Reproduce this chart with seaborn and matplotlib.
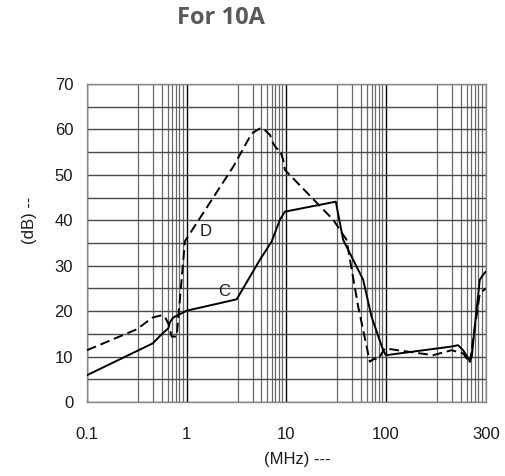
import numpy as np
import pandas as pd
import seaborn as sns
from matplotlib import pyplot as plt

# curve C (solid), x in the axis' own units
c_freq = [0.1, 0.456, 0.578, 0.653, 0.68, 0.733, 1.0, 3.17, 5.42, 7.11, 8.6, 9.66, 31.3, 37.1,
          58.9, 71.4, 93.4, 99.5, 453, 527, 592, 665, 691, 724, 776, 871, 940, 1000]
c_db = [5.9, 12.9, 15.2, 16.2, 17.6, 18.6, 20.1, 22.6, 31.3, 35.3, 40.1, 41.9, 44.1, 35.7,
        26.9, 18.8, 11.4, 10.3, 12.2, 12.5, 11.4, 9.7, 8.9, 10.0, 16.6, 26.9, 28.0, 28.7]

# curve D (dashed)
d_freq = [0.1, 0.315, 0.456, 0.561, 0.605, 0.653, 0.706, 0.793, 0.96, 2.93, 4.48, 5.42, 5.85,
          6.84, 7.38, 7.98, 8.61, 9.29, 9.66, 10.8, 29.5, 31.9, 40.1, 52.5, 68.7, 77.1, 80.2,
          86.5, 97.2, 296, 453, 592, 665, 691, 871, 1000]
d_db = [11.4, 16.0, 18.6, 19.1, 18.7, 17.3, 14.4, 14.4, 35.4, 51.8, 59.1, 60.2, 60.2,
        58.8, 56.9, 55.8, 55.5, 53.3, 51.1, 50.0, 40.1, 39.0, 35.7, 21.0, 8.9, 9.6, 9.2,
        10.0, 11.8, 10.3, 11.4, 10.7, 9.2, 8.6, 23.9, 25.0]

x_ticks = [0.1, 1, 10, 100, 1000]
x_labels = ['0.1', '1', '10', '100', '300']
y_ticks = [0, 10, 20, 30, 40, 50, 60, 70]

sns.set_style('white')
plt.rcParams['font.family'] = ['Liberation Sans', 'DejaVu Sans']

fig = plt.figure(figsize=(5.06, 4.76), dpi=100)
ax = fig.add_axes([0.172, 0.1555, 0.788, 0.668])

df_c = pd.DataFrame({'f': c_freq, 'db': c_db})
df_d = pd.DataFrame({'f': d_freq, 'db': d_db})
sns.lineplot(data=df_c, x='f', y='db', ax=ax, color='black', lw=1.4, sort=False, estimator=None, zorder=5)
sns.lineplot(data=df_d, x='f', y='db', ax=ax, color='black', lw=1.4, sort=False, estimator=None,
             linestyle=(0, (5, 2.5)), zorder=5)

ax.set_xscale('log')
ax.set_xlim(0.1, 1000)
ax.set_ylim(0, 70)
ax.set_xticks(x_ticks)
ax.set_xticklabels(x_labels)
# the sheet's minor grid is spaced unevenly inside each decade
fracs = [0.51, 0.66, 0.75, 0.81, 0.855, 0.89, 0.925, 0.96]
ax.set_xticks([10 ** (d + f) for d in range(-1, 3) for f in fracs], minor=True)
ax.set_yticks(y_ticks)
ax.set_yticks(np.arange(5, 70, 10), minor=True)

ax.grid(which='major', axis='x', color='black', lw=1.0)
ax.grid(which='minor', axis='x', color='#6a6a6a', lw=0.9)
ax.grid(which='both', axis='y', color='#4a4a4a', lw=1.0)
ax.set_axisbelow(True)

ax.tick_params(axis='x', which='major', direction='out', length=12, width=1, color='#777777',
               labelsize=12, labelcolor='#1a1a1a', pad=6)
ax.tick_params(axis='x', which='minor', length=0)
ax.tick_params(axis='y', which='both', direction='out', length=5, width=1, color='#777777',
               labelsize=12, labelcolor='#1a1a1a', pad=5)
for s in ax.spines.values():
    s.set_color('#888888')
    s.set_linewidth(1.0)

ax.set_xlabel('')
ax.set_ylabel('')
ax.text(1.56, 37.5, 'D', fontsize=12, ha='center', va='center', color='#1a1a1a')
ax.text(2.36, 24.3, 'C', fontsize=12, ha='center', va='center', color='#1a1a1a')

fig.text(0.437, 0.962, 'For 10A', fontsize=17, fontweight='bold', color='#595959',
         ha='center', va='center', family=['Open Sans', 'DejaVu Sans'])
fig.text(0.059, 0.538, '(dB) --', fontsize=12, rotation=90, ha='center', va='center', color='#1a1a1a')
fig.text(0.587, 0.034, '(MHz) ---', fontsize=12, ha='center', va='center', color='#1a1a1a')

fig.savefig('out.png', dpi=100)
